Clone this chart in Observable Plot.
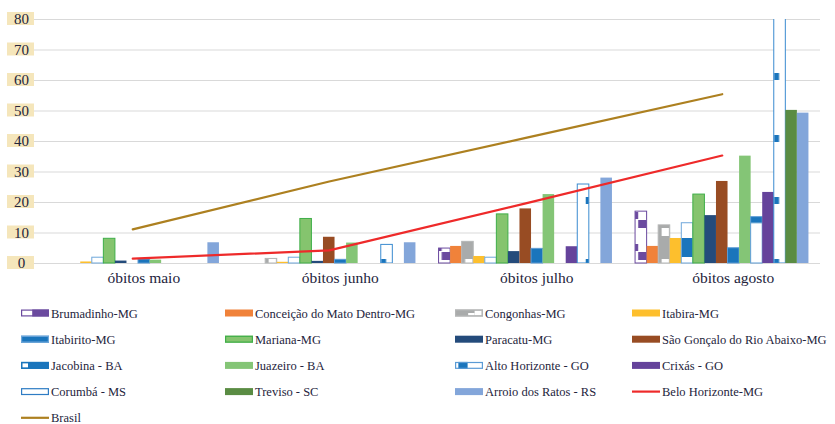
<!DOCTYPE html>
<html lang="pt">
<head>
<meta charset="utf-8">
<script src="https://cdn.jsdelivr.net/npm/d3@7"></script>
<script src="https://cdn.jsdelivr.net/npm/@observablehq/plot@0.6"></script>
<style>
  html, body { margin: 0; padding: 0; background: #fff; font-family: "Liberation Serif", "Times New Roman", Tinos, "DejaVu Serif", "Noto Serif", Times, serif; }
  #chart svg, #legend svg { display: block; overflow: visible; }
</style>
</head>
<body>
<div id="chart"></div>
<div id="legend"></div>
<script>
// Months on the category axis
const months = ["óbitos maio", "óbitos junho", "óbitos julho", "óbitos agosto"];

// Cities drawn as clustered bars, in cluster order
const cities = [
  "Brumadinho-MG", "Conceição do Mato Dentro-MG", "Congonhas-MG", "Itabira-MG",
  "Itabirito-MG", "Mariana-MG", "Paracatu-MG", "São Gonçalo do Rio Abaixo-MG",
  "Jacobina - BA", "Juazeiro - BA", "Alto Horizonte - GO", "Crixás - GO",
  "Corumbá - MS", "Treviso - SC", "Arroio dos Ratos - RS"
];

// Deaths per month: maio, junho, julho, agosto
const brumadinho     = [0, 0, 4.9, 17.0];
const conceicao      = [0, 0, 5.6, 5.6];
const congonhas      = [0, 1.5, 7.1, 12.5];
const itabira        = [0.5, 0.4, 2.3, 8.2];
const itabirito      = [1.9, 1.9, 1.9, 13.2];
const mariana        = [8.1, 14.6, 16.1, 22.6];
const paracatu       = [0.8, 0.7, 3.9, 15.7];
const saoGoncalo     = [0, 8.6, 17.9, 26.9];
const jacobina       = [1.3, 1.2, 4.8, 5.0];
const juazeiro       = [1.1, 6.7, 22.6, 35.2];
const altoHorizonte  = [0, 0, 0, 15.2];
const crixas         = [0, 0, 5.5, 23.3];
const corumba        = [0, 6.1, 25.9, 90];
const treviso        = [0, 0, 0, 50.2];
const arroioDosRatos = [6.8, 6.8, 28.0, 49.3];

// Lines
const lineNames = ["Belo Horizonte-MG", "Brasil"];
const beloHorizonte = [1.6, 4.3, 19.7, 35.4];
const brasil        = [11.2, 26.9, 41.2, 55.5];

const yTicks = [0, 10, 20, 30, 40, 50, 60, 70, 80];

const barValues = [brumadinho, conceicao, congonhas, itabira, itabirito, mariana, paracatu,
  saoGoncalo, jacobina, juazeiro, altoHorizonte, crixas, corumba, treviso, arroioDosRatos];

// Bar styles; swatch parts are [x0, x1, y0, y1, fill] in fractions of the legend key
const barStyles = [
  {fill: "url(#p-brumadinho)", stroke: "#6b4a9f", bg: "#fff", parts: [[0.4, 1, 0, 1, "#6b4a9f"]]},
  {fill: "#f0823a", bg: "#f0823a"},
  {fill: "url(#p-congonhas)", stroke: "#b4b6b6", bg: "#a9abab", parts: [[0.47, 0.7, 0.5, 0.85, "#fff"], [0.7, 0.95, 0.15, 0.85, "#fff"]]},
  {fill: "#fdbf2d", bg: "#fdbf2d"},
  {fill: "url(#p-itabirito)", stroke: "#6ea7db", bg: "#1a75bc"},
  {fill: "#85c46e", stroke: "#3fae49", bg: "#85c46e"},
  {fill: "#244b7b", bg: "#244b7b"},
  {fill: "#984c23", bg: "#984c23"},
  {fill: "#1a75bc", stroke: "#5b9bd5", bg: "#1a75bc", outline: "#1a75bc", parts: [[0.05, 0.25, 0.2, 0.8, "#fff"]]},
  {fill: "#84c576", bg: "#84c576"},
  {fill: "url(#p-altohorizonte)", stroke: "#5b9bd5", bg: "#fff", parts: [[0.12, 0.45, 0, 1, "#1a75bc"]]},
  {fill: "#65439b", bg: "#65439b"},
  {fill: "url(#p-corumba)", stroke: "#3a8bd0", bg: "#fff", outline: "#2e7cc4", clip: true},
  {fill: "#5a8c43", bg: "#5a8c43"},
  {fill: "#83a6da", bg: "#83a6da"}
];
const lineColors = ["#ee2a2a", "#ad8020"];

const font = '"Liberation Serif", "Times New Roman", Tinos, "DejaVu Serif", "Noto Serif", Times, serif';
const ink = "#24243c";

// Clustered bars on one band scale: each month gets a spacer, 15 city slots, a spacer
const key = (m, c) => m + "|" + c;
const mid = cities[7];
const xDomain = months.flatMap(m => [key(m, "<"), ...cities.map(c => key(m, c)), key(m, ">")]);
const rows = cities.flatMap((c, i) => months.map((m, j) => ({city: c, key: key(m, c), value: barValues[i][j]})));

const chart = Plot.plot({
  width: 835,
  height: 290,
  marginTop: 19,
  marginBottom: 27,
  marginLeft: 34,
  marginRight: 15,
  style: {fontFamily: font, color: ink, background: "#fff", overflow: "visible"},
  x: {type: "band", domain: xDomain, padding: 0},
  y: {domain: [0, 80]},
  marks: [
    Plot.gridY(yTicks, {stroke: "#d9d9d9", strokeOpacity: 1, strokeWidth: 1.2}),
    ...cities.map((c, i) => Plot.barY(rows.filter(d => d.city === c && d.value > 0), {
      x: "key", y: "value",
      fill: barStyles[i].fill,
      stroke: barStyles[i].stroke,
      strokeWidth: 1,
      clip: !!barStyles[i].clip
    })),
    ...[beloHorizonte, brasil].map((vals, k) => Plot.lineY(months.map((m, j) => ({key: key(m, mid), value: vals[j]})), {
      x: "key", y: "value", stroke: lineColors[k], strokeWidth: 2.2
    })),
    Plot.axisY(yTicks, {tickSize: 0, tickPadding: 13, textAnchor: "middle", fontSize: 15, fill: ink, label: null}),
    Plot.axisX(months.map(m => key(m, mid)), {
      tickSize: 0, tickPadding: 8, fontSize: 15.5, fill: ink, dx: 11, label: null,
      tickFormat: k => k.split("|")[0]
    })
  ]
});
document.getElementById("chart").append(chart);

// Pattern fills, aligned to the band slots
const xs = chart.scale("x");
const step = xs.step, x0 = xs.range[0];
const svg = d3.select(chart);
svg.selectAll("text").attr("font-family", font).style("font-family", font);
const defs = svg.insert("defs", ":first-child");
function pattern(id, w, h, y, bg, rects) {
  const p = defs.append("pattern").attr("id", id).attr("patternUnits", "userSpaceOnUse")
    .attr("x", x0).attr("y", y).attr("width", w).attr("height", h);
  p.append("rect").attr("width", w).attr("height", h).attr("fill", bg);
  rects.forEach(([rx, ry, rw, rh, f]) => p.append("rect").attr("x", rx).attr("y", ry).attr("width", rw).attr("height", rh).attr("fill", f));
}
pattern("p-brumadinho", step, 32, 220, "#fff", [[0.27 * step, 0, 0.73 * step, 8, "#6b4a9f"], [0, 24, 0.27 * step, 7, "#6b4a9f"]]);
pattern("p-congonhas", step, 31, 228, "#a9abab", [[0.3 * step, 0, 0.65 * step, 8, "#fff"]]);
pattern("p-itabirito", step, 41, 238, "#fff", [[0, 0, step, 19, "#1a75bc"]]);
pattern("p-altohorizonte", step, 62, 216.5, "#fff", [[0, 0, step, 6.5, "#1a75bc"]]);
pattern("p-corumba", 2 * step, 62, 197, "#fff", [[0.03 * step, 0, 0.43 * step, 7, "#1a75bc"], [1.73 * step, 0, 0.27 * step, 7, "#1a75bc"]]);

// Beige boxes behind the value labels
const ys = chart.scale("y");
yTicks.forEach(v => {
  svg.insert("rect", 'g[aria-label="y-axis tick label"]')
    .attr("x", 7).attr("y", ys.apply(v) - 7).attr("width", 27).attr("height", 13)
    .attr("fill", "#f5e6bb");
});

// Legend: four columns, row by row
const legendItems = [
  ...cities.map((c, i) => ({name: c, bar: barStyles[i]})),
  ...lineNames.map((n, k) => ({name: n, line: lineColors[k]}))
];
const cols = [21, 225, 455, 632];
const leg = d3.select("#legend").append("svg").attr("width", 835).attr("height", 134);
const sw = 28, sh = 7;
legendItems.forEach((it, n) => {
  const gx = cols[n % 4], gy = 23 + Math.floor(n / 4) * 26.2;
  const g = leg.append("g").attr("transform", `translate(${gx},${gy})`);
  if (it.line) {
    g.append("line").attr("x1", 0).attr("x2", sw).attr("y1", 0).attr("y2", 0)
      .attr("stroke", it.line).attr("stroke-width", 2.2);
  } else {
    const s = it.bar;
    g.append("rect").attr("x", 0).attr("y", -sh / 2).attr("width", sw).attr("height", sh).attr("fill", s.bg);
    (s.parts || []).forEach(([a, b, c, d, f]) => g.append("rect")
      .attr("x", a * sw).attr("y", -sh / 2 + c * sh).attr("width", (b - a) * sw).attr("height", (d - c) * sh).attr("fill", f));
    const oc = s.outline || s.stroke;
    if (oc) g.append("rect").attr("x", 0.6).attr("y", -sh / 2 + 0.6).attr("width", sw - 1.2).attr("height", sh - 1.2)
      .attr("fill", "none").attr("stroke", oc).attr("stroke-width", 1.2);
  }
  g.append("text").attr("x", sw + 2).attr("y", 4.5).attr("fill", ink)
    .attr("font-family", font).attr("font-size", 12.5).text(it.name);
});
</script>
</body>
</html>
